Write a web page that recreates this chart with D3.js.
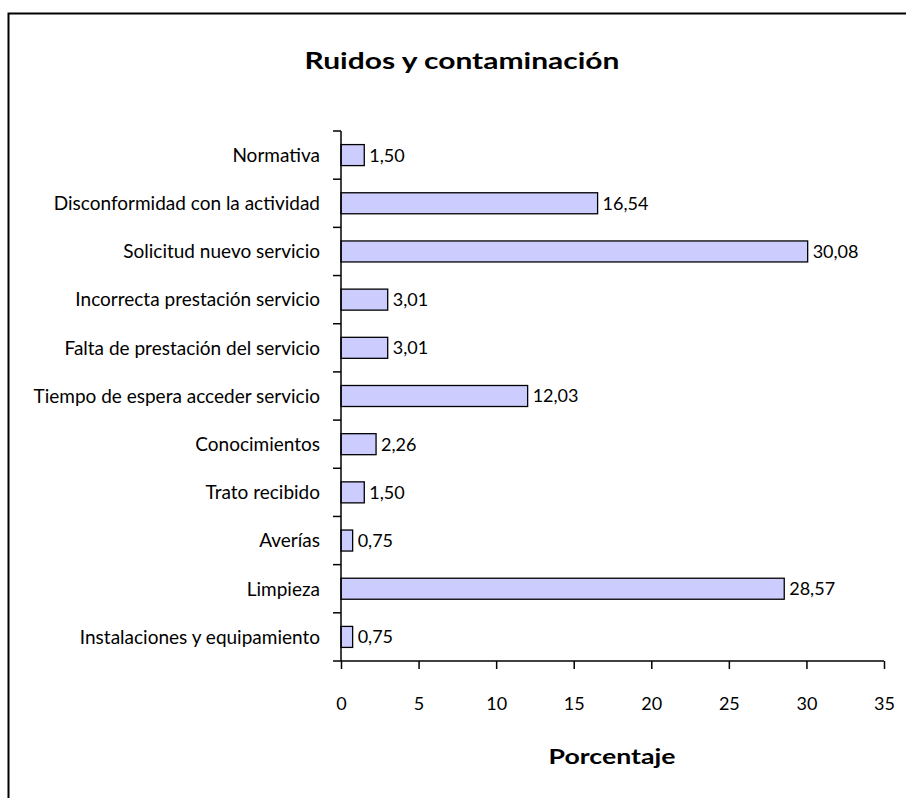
<!DOCTYPE html>
<html>
<head>
<meta charset="utf-8">
<script src="https://cdn.jsdelivr.net/npm/d3@7"></script>
<style>
  body { margin: 0; background: #fff; }
  svg { display: block; }
  text { font-family: Lato, "Open Sans", sans-serif; fill: #000; }
</style>
</head>
<body>
<svg id="chart" width="906" height="798"></svg>
<script>
const categories = [
  "Normativa",
  "Disconformidad con la actividad",
  "Solicitud nuevo servicio",
  "Incorrecta prestación servicio",
  "Falta de prestación del servicio",
  "Tiempo de espera acceder servicio",
  "Conocimientos",
  "Trato recibido",
  "Averías",
  "Limpieza",
  "Instalaciones y equipamiento"
];
const values = [1.50, 16.54, 30.08, 3.01, 3.01, 12.03, 2.26, 1.50, 0.75, 28.57, 0.75];
const xTicks = [0, 5, 10, 15, 20, 25, 30, 35];
const title = "Ruidos y contaminación";
const xTitle = "Porcentaje";

(function () {
const svg = d3.select("#chart");
const mLeft = 341, mRight = 884, mTop = 131, mBottom = 661;

// outer border (extends past the canvas on right and bottom)
svg.append("rect")
  .attr("x", 8.5).attr("y", 13.5)
  .attr("width", 1200).attr("height", 1200)
  .attr("fill", "none").attr("stroke", "#000").attr("stroke-width", 2);

const x = d3.scaleLinear().domain([0, 35]).range([mLeft, mRight]);
const pad = 0.564;
const y = d3.scaleBand().domain(categories).range([mTop, mBottom])
  .paddingInner(pad).paddingOuter(pad / 2);
const step = y.step();

const fmt = v => v.toFixed(2).replace(".", ",");

// bars
svg.append("g").selectAll("rect")
  .data(categories)
  .join("rect")
  .attr("x", x(0))
  .attr("y", d => y(d))
  .attr("width", (d, i) => x(values[i]) - x(0))
  .attr("height", y.bandwidth())
  .attr("fill", "#ccccff")
  .attr("stroke", "#000")
  .attr("stroke-width", 1.3);

// value labels
svg.append("g").selectAll("text")
  .data(categories)
  .join("text")
  .attr("x", (d, i) => x(values[i]) + 5)
  .attr("y", d => y(d) + y.bandwidth() / 2)
  .attr("dy", "0.36em")
  .attr("font-size", 18)
  .text((d, i) => fmt(values[i]));

// y axis line & ticks at category boundaries
const yAxis = svg.append("g");
yAxis.append("line")
  .attr("x1", mLeft).attr("x2", mLeft)
  .attr("y1", mTop).attr("y2", mBottom)
  .attr("stroke", "#000").attr("stroke-width", 1.5);
const boundaries = categories.map(d => y(d) - step * pad / 2).concat([mBottom]);
yAxis.selectAll("line.tick")
  .data(boundaries)
  .join("line")
  .attr("class", "tick")
  .attr("x1", mLeft - 8).attr("x2", mLeft)
  .attr("y1", d => d).attr("y2", d => d)
  .attr("stroke", "#000").attr("stroke-width", 1.5);

// category labels
svg.append("g").selectAll("text")
  .data(categories)
  .join("text")
  .attr("x", 320)
  .attr("y", d => y(d) + y.bandwidth() / 2)
  .attr("dy", "0.36em")
  .attr("text-anchor", "end")
  .attr("font-size", 19)
  .text(d => d);

// x axis
const xAxis = d3.axisBottom(x).tickValues(xTicks).tickSize(8).tickPadding(28)
  .tickFormat(d => String(d));
const gx = svg.append("g").attr("transform", `translate(0,${mBottom})`).call(xAxis);
gx.select(".domain").attr("stroke", "#000").attr("stroke-width", 1.5)
  .attr("d", `M${mLeft},0H${mRight}`);
gx.selectAll(".tick line").attr("stroke", "#000").attr("stroke-width", 1.5);
gx.selectAll(".tick text").attr("font-size", 18)
  .attr("font-family", "Lato, 'Open Sans', sans-serif").attr("fill", "#000");

// titles
svg.append("text")
  .attr("x", 462).attr("y", 69)
  .attr("text-anchor", "middle")
  .attr("font-family", "'DejaVu Sans', sans-serif")
  .attr("font-size", 22).attr("font-weight", "bold")
  .attr("textLength", 315).attr("lengthAdjust", "spacingAndGlyphs")
  .text(title);

svg.append("text")
  .attr("x", 612).attr("y", 764)
  .attr("text-anchor", "middle")
  .attr("font-family", "'DejaVu Sans', sans-serif")
  .attr("font-size", 20).attr("font-weight", "bold")
  .attr("textLength", 127).attr("lengthAdjust", "spacingAndGlyphs")
  .text(xTitle);
})();
</script>
</body>
</html>
